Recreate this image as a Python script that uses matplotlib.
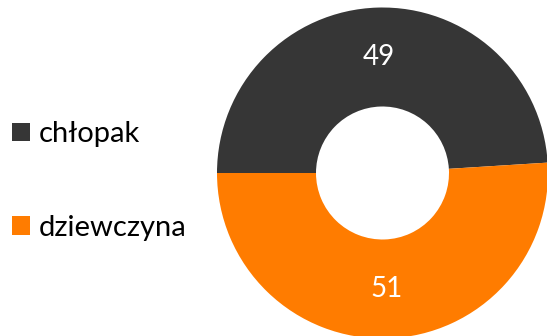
import matplotlib
matplotlib.use("Agg")
import matplotlib.pyplot as plt

labels = ["chłopak", "dziewczyna"]
values = [49, 51]
colors = ["#363636", "#ff7c00"]

plt.rcParams["font.family"] = ["Lato", "DejaVu Sans"]

W, H = 547, 336
fig = plt.figure(figsize=(W / 100, H / 100), dpi=100)

# donut axes: centre (382.5, 173) px from top-left, outer radius 165.5 px
cx, cy, r = 382.5, H - 173, 165.5
ax = fig.add_axes([(cx - r) / W, (cy - r) / H, 2 * r / W, 2 * r / H])

wedges, texts = ax.pie(values, colors=colors, startangle=180, counterclock=False,
                       radius=1, wedgeprops=dict(width=1 - 66.5 / 165.5, linewidth=0),
                       labels=[str(v) for v in values], labeldistance=(1 + 66.5 / 165.5) / 2)
for t in texts:
    t.set_color("white")
    t.set_fontsize(20)
    t.set_ha("center")
    t.set_va("center")
ax.set_xlim(-1, 1)
ax.set_ylim(-1, 1)
ax.set_aspect("equal")
ax.axis("off")

fig.legend(wedges, labels, loc="center left", bbox_to_anchor=(12 / W, 1 - 181 / H),
           frameon=False, fontsize=21, handlelength=0.6, handleheight=0.6,
           handletextpad=0.3, labelspacing=2.3, borderaxespad=0, borderpad=0)

fig.savefig("out.png", dpi=100)
